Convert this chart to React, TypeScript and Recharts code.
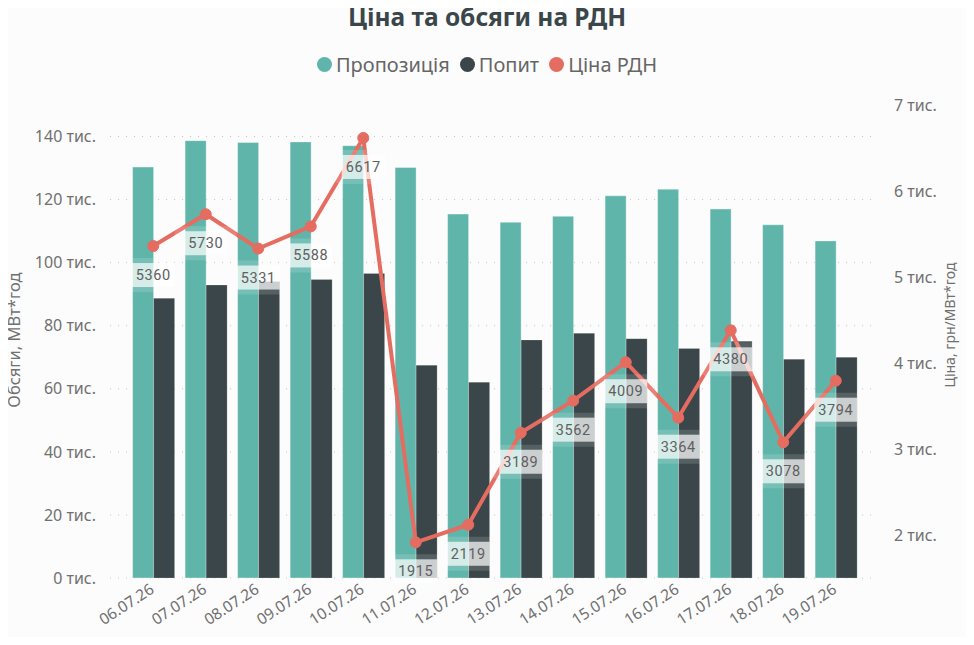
import { Bar, CartesianGrid, ComposedChart, LabelList, Line, XAxis, YAxis } from "recharts";

const dates = ["06.07.26", "07.07.26", "08.07.26", "09.07.26", "10.07.26", "11.07.26", "12.07.26",
  "13.07.26", "14.07.26", "15.07.26", "16.07.26", "17.07.26", "18.07.26", "19.07.26"];
const supply = [130300, 138700, 138100, 138300, 137100, 130200, 115400, 112800, 114700, 121200, 123300, 117000, 112000, 106900];
const demand = [88700, 92900, 94000, 94700, 96600, 67500, 62100, 75500, 77600, 75900, 72800, 75100, 69400, 70000];
const price = [5360, 5730, 5331, 5588, 6617, 1915, 2119, 3189, 3562, 4009, 3364, 4380, 3078, 3794];
const volumeTicks = [0, 20000, 40000, 60000, 80000, 100000, 120000, 140000];
const priceTicks = [2000, 3000, 4000, 5000, 6000, 7000];
const VOLUME_MAX = 150000;

const TEAL = "#5FB5AA";
const DARK = "#3A4649";
const RED = "#E56C60";
const FONT = "'Noto Sans', sans-serif";
const AXIS_GREY = "#707070";

const data = dates.map((d, i) => ({ date: d, supply: supply[i], demand: demand[i], price: price[i] }));

const thousands = (v: number) => `${v / 1000} тис.`;

function DateTick({ x, y, payload }: any) {
  return (
    <text x={x + 2} y={y + 6} textAnchor="end" fill={AXIS_GREY} fontSize={15.5} fontFamily={FONT}
      transform={`rotate(-33, ${x + 2}, ${y + 6})`}>
      {payload.value}
    </text>
  );
}

function PriceLabel({ x, y, value }: any) {
  const cy = y + 29;
  return (
    <g>
      <rect x={x - 31} y={cy - 17} width={62} height={34} rx={8} fill="#fff" fillOpacity={0.14} />
      <rect x={x - 21.5} y={cy - 12} width={43} height={24} fill="#fff" fillOpacity={0.7} />
      <text x={x} y={cy + 5} textAnchor="middle" fill="#606060" fontSize={14.5} fontFamily="Roboto, sans-serif"
        letterSpacing={0.6}>
        {value}
      </text>
    </g>
  );
}

const legendItems = [
  { name: "Пропозиція", color: TEAL },
  { name: "Попит", color: DARK },
  { name: "Ціна РДН", color: RED },
];

export default function App() {
  return (
    <div style={{ position: "relative", width: 974, height: 645, margin: -8, fontFamily: FONT, background: "#fcfcfc" }}>
      <div style={{ position: "absolute", top: 0, left: 0, width: 974, textAlign: "center",
        fontSize: 24.5, fontWeight: 700, color: "#3A4649" }}>
        Ціна та обсяги на РДН
      </div>
      <div style={{ position: "absolute", top: 51, left: 0, width: 974, display: "flex",
        justifyContent: "center", gap: 10, fontSize: 20, color: "#666" }}>
        {legendItems.map((it) => (
          <span key={it.name} style={{ display: "flex", alignItems: "center" }}>
            <span style={{ width: 15, height: 15, borderRadius: "50%", background: it.color, marginRight: 4 }} />
            {it.name}
          </span>
        ))}
      </div>
      <ComposedChart width={974} height={645} data={data} barCategoryGap="10.7%" barGap={0}
        margin={{ top: 105, right: 39, left: 50, bottom: 17 }} style={{ position: "absolute", top: 0, left: 0 }}>
        <CartesianGrid yAxisId="left" vertical={false} stroke="#c4c4c4" strokeDasharray="1 7"
          horizontalCoordinatesGenerator={({ offset }: any) =>
            volumeTicks.map((t) => offset.top + offset.height * (1 - t / VOLUME_MAX))} />
        <XAxis dataKey="date" axisLine={false} tickLine={false} height={50} interval={0}
          padding={{ left: 17, right: 13 }} tick={<DateTick />} />
        <YAxis yAxisId="left" domain={[0, VOLUME_MAX]} ticks={volumeTicks} tickFormatter={thousands}
          axisLine={false} tickLine={false} width={60} tickMargin={8}
          tick={{ fill: AXIS_GREY, fontSize: 16, fontFamily: FONT }}
          label={{
            content: ({ viewBox }: any) => (
              <text x={viewBox.x - 30} y={340} textAnchor="middle" fill={AXIS_GREY} fontSize={16.5}
                fontFamily={FONT} transform={`rotate(-90, ${viewBox.x - 30}, 340)`}>
                Обсяги, МВт*год
              </text>
            ),
          }} />
        <YAxis yAxisId="right" orientation="right" domain={[1500, 7000]} ticks={priceTicks}
          tickFormatter={thousands} axisLine={false} tickLine={false} width={60} tickMargin={13}
          tick={{ fill: AXIS_GREY, fontSize: 16, fontFamily: FONT }}
          label={{
            content: ({ viewBox }: any) => (
              <text x={viewBox.x + 80} y={325} textAnchor="middle" fill={AXIS_GREY} fontSize={14}
                fontFamily={FONT} transform={`rotate(-90, ${viewBox.x + 80}, 325)`}>
                Ціна, грн/МВт*год
              </text>
            ),
          }} />
        <Bar yAxisId="left" dataKey="supply" name="Пропозиція" fill={TEAL} stroke="#ffffff"
          strokeOpacity={0.35} strokeWidth={1} isAnimationActive={false} />
        <Bar yAxisId="left" dataKey="demand" name="Попит" fill={DARK} stroke="#ffffff"
          strokeOpacity={0.2} strokeWidth={1} isAnimationActive={false} />
        <Line yAxisId="right" dataKey="price" name="Ціна РДН" stroke={RED} strokeWidth={4}
          dot={{ r: 5.5, fill: RED, stroke: RED, strokeWidth: 1 }} activeDot={false} isAnimationActive={false}>
          <LabelList dataKey="price" content={<PriceLabel />} />
        </Line>
      </ComposedChart>
    </div>
  );
}
